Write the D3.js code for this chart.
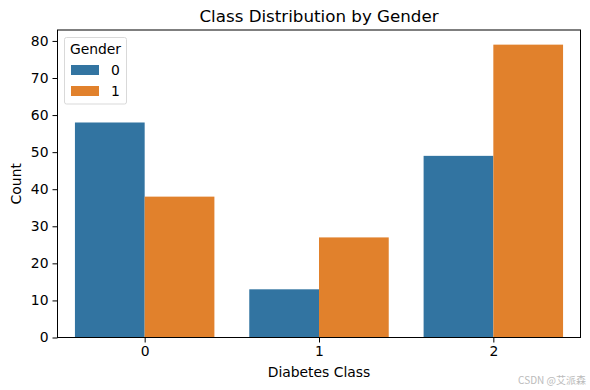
<!DOCTYPE html>
<html><head><meta charset="utf-8">
<script src="https://cdn.jsdelivr.net/npm/d3@7"></script>
<style>body{margin:0;background:#fff}svg{font-family:"DejaVu Sans",sans-serif}</style>
</head><body>
<svg id="c" width="590" height="390"></svg>
<script>
const categories = ["0","1","2"];
const genders = ["0","1"];
const gender0 = [58, 13, 49];
const gender1 = [38, 27, 79];
const yTicks = [0,10,20,30,40,50,60,70,80];
const colors = ["#3274a1","#e1812c"];

const svg = d3.select("#c");
const L=57.5, R=580.5, T=30, B=337.5;
const FS=13.9;
const x0 = d3.scaleLinear().domain([-0.5,2.5]).range([L,R]);
const y = d3.scaleLinear().domain([0, 79*1.05]).range([B,T]);
const bw = (x0(1)-x0(0))*0.4;

const series=[gender0,gender1];
series.forEach((vals,gi)=>{
  svg.append("g").selectAll("rect").data(vals).join("rect")
    .attr("x",(d,i)=>x0(i)-bw+gi*bw).attr("width",bw)
    .attr("y",d=>y(d)).attr("height",d=>B-y(d)).attr("fill",colors[gi]);
});

const xa = svg.append("g").attr("transform",`translate(0,${B})`)
  .call(d3.axisBottom(x0).tickValues([0,1,2]).tickFormat(d=>categories[d]).tickSize(5).tickPadding(4));
const ya = svg.append("g").attr("transform",`translate(${L},0)`)
  .call(d3.axisLeft(y).tickValues(yTicks).tickSize(5).tickPadding(4));
[xa,ya].forEach(a=>{a.select(".domain").remove();a.selectAll("text").attr("font-size",FS).attr("fill","#000").attr("font-family","DejaVu Sans");a.selectAll("line").attr("stroke","#000").attr("stroke-width",1);});
svg.append("rect").attr("x",L).attr("y",T).attr("width",R-L).attr("height",B-T).attr("fill","none").attr("stroke","#000").attr("stroke-width",1);

svg.append("text").attr("x",(L+R)/2).attr("y",22).attr("text-anchor","middle").attr("font-size",16.7).text("Class Distribution by Gender");
svg.append("text").attr("x",(L+R)/2).attr("y",377).attr("text-anchor","middle").attr("font-size",FS).text("Diabetes Class");
svg.append("text").attr("transform",`translate(21,${(T+B)/2}) rotate(-90)`).attr("text-anchor","middle").attr("font-size",FS).text("Count");

const lg = svg.append("g");
lg.append("rect").attr("x",64.5).attr("y",37.5).attr("width",62).attr("height",66.5).attr("rx",2).attr("fill","#fff").attr("fill-opacity",0.8).attr("stroke","#d9d9d9");
lg.append("text").attr("x",95.5).attr("y",54).attr("text-anchor","middle").attr("font-size",FS).text("Gender");
genders.forEach((g,i)=>{
  lg.append("rect").attr("x",71).attr("y",65+i*21).attr("width",28).attr("height",10).attr("fill",colors[i]);
  lg.append("text").attr("x",111).attr("y",75+i*21).attr("font-size",FS).text(g);
});
svg.append("text").attr("x",586).attr("y",384).attr("text-anchor","end").attr("font-size",10).attr("fill","#bbb").attr("font-family","'Noto Sans CJK SC',sans-serif").text("CSDN @艾派森");
</script>
</body></html>
